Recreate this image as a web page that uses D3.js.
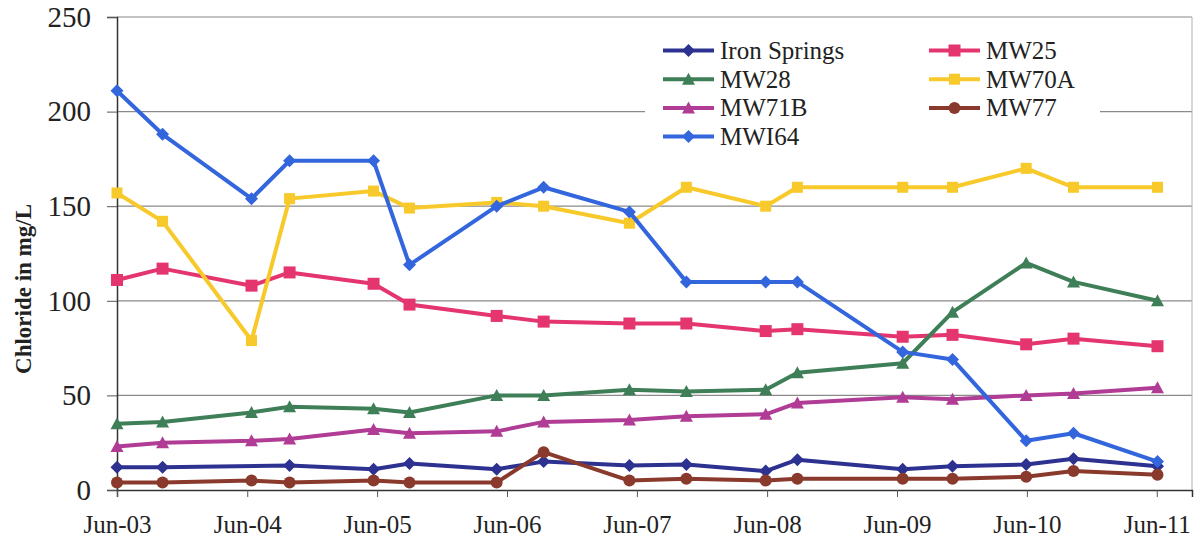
<!DOCTYPE html>
<html>
<head>
<meta charset="utf-8">
<script src="https://cdn.jsdelivr.net/npm/d3@7"></script>
<style>
  html, body { margin: 0; padding: 0; background: #fff; }
  svg { display: block; }
  text { font-family: "Liberation Serif", "Times New Roman", serif; fill: #222; }
</style>
</head>
<body>
<svg id="chart" width="1197" height="544"></svg>
<script>
// ---- data ----
const sampleDates = ["2003-06-01","2003-10-07","2004-06-13","2004-09-28","2005-05-22","2005-08-31",
  "2006-05-03","2006-09-12","2007-05-11","2007-10-18","2008-05-28","2008-08-25",
  "2009-06-17","2009-11-04","2010-05-30","2010-10-10","2011-06-03"];
const seriesNames = ["Iron Springs","MW25","MW28","MW70A","MW71B","MW77","MWI64"];
const ironSprings = [12,12,null,13,11,14,11,15,13,13.5,10,16,11,12.5,13.5,16.5,12.5];
const mw25  = [111,117,108,115,109,98,92,89,88,88,84,85,81,82,77,80,76];
const mw28  = [35,36,41,44,43,41,50,50,53,52,53,62,67,94,120,110,100];
const mw70a = [157,142,79,154,158,149,152,150,141,160,150,160,160,160,170,160,160];
const mw71b = [23,25,26,27,32,30,31,36,37,39,40,46,49,48,50,51,54];
const mw77  = [4,4,5,4,5,4,4,20,5,6,5,6,6,6,7,10,8];
const mwi64 = [211,188,154,174,174,119,150,160,147,110,110,110,73,69,26,30,15];
const yTicks = [0,50,100,150,200,250];
const xTickYears = [2003,2004,2005,2006,2007,2008,2009,2010,2011];
const yTitle = "Chloride in mg/L";

// ---- styles ----
const styles = {
  "Iron Springs": {color:"#2d3190", marker:"diamond", size:11},
  "MW25":  {color:"#e4356f", marker:"square", size:12},
  "MW28":  {color:"#3f7f58", marker:"triangle", size:11},
  "MW70A": {color:"#f7c92a", marker:"square", size:11},
  "MW71B": {color:"#b03c95", marker:"triangle", size:11},
  "MW77":  {color:"#8a3a2c", marker:"circle", size:12},
  "MWI64": {color:"#3366dd", marker:"diamond", size:11}
};
const valuesByName = {"Iron Springs":ironSprings,"MW25":mw25,"MW28":mw28,"MW70A":mw70a,"MW71B":mw71b,"MW77":mw77,"MWI64":mwi64};

const parse = d3.timeParse("%Y-%m-%d");
const dates = sampleDates.map(parse);

const svg = d3.select("#chart");
const pLeft = 117, pRight = 1192, pTop = 17, pBottom = 490;
const serif = '"Liberation Serif", "Times New Roman", serif';

const x = d3.scaleTime()
  .domain([new Date(2003,5,1), new Date(2011,8,8)])
  .range([pLeft, pRight]);
const y = d3.scaleLinear().domain([0,250]).range([pBottom, pTop]);

// gridlines
svg.append("g").selectAll("line").data(yTicks.filter(d => d > 0)).join("line")
  .attr("x1", pLeft).attr("x2", pRight)
  .attr("y1", d => y(d)).attr("y2", d => y(d))
  .attr("stroke", "#8a8a8a").attr("stroke-width", 1.2);

// right border
svg.append("line").attr("x1", pRight).attr("x2", pRight).attr("y1", pTop).attr("y2", pBottom)
  .attr("stroke", "#b0b0b0").attr("stroke-width", 1);

// y axis
const yAxis = svg.append("g").attr("transform", `translate(${pLeft},0)`)
  .call(d3.axisLeft(y).tickValues(yTicks).tickSize(10).tickPadding(16));
yAxis.attr("font-family", serif);
yAxis.select(".domain").attr("stroke", "#333").attr("stroke-width", 1.5);
yAxis.selectAll(".tick line").attr("stroke", "#555");
yAxis.selectAll("text").style("font-size", "29px").attr("fill", "#222").style("font-family", serif);

// x axis
const xAxis = svg.append("g").attr("transform", `translate(0,${pBottom})`)
  .call(d3.axisBottom(x).tickValues(xTickYears.map(yr => new Date(yr,5,1)))
    .tickFormat(d3.timeFormat("%b-%y")).tickSize(7).tickPadding(18));
xAxis.attr("font-family", serif);
xAxis.select(".domain").attr("stroke", "#333").attr("stroke-width", 1.5);
xAxis.selectAll(".tick line").attr("stroke", "#555");
xAxis.selectAll("text").style("font-size", "25px").attr("fill", "#222").style("font-family", serif);

// y title
svg.append("text")
  .attr("transform", `translate(31,289) rotate(-90)`)
  .attr("text-anchor", "middle")
  .style("font-size", "23px").style("font-weight", "bold")
  .text(yTitle);

// markers
function markerPath(type, s) {
  const h = s / 2;
  if (type === "diamond") return `M0,${-h-1}L${h+1},0L0,${h+1}L${-h-1},0Z`;
  if (type === "square") return `M${-h},${-h}H${h}V${h}H${-h}Z`;
  if (type === "triangle") return `M0,${-h-1}L${h+1},${h}L${-h-1},${h}Z`;
  if (type === "circle") return `M${h},0A${h},${h} 0 1,1 ${-h},0A${h},${h} 0 1,1 ${h},0Z`;
}

const line = d3.line().defined(d => d.v != null).x(d => x(d.date)).y(d => y(d.v));

seriesNames.forEach(name => {
  const st = styles[name];
  const pts = valuesByName[name].map((v, i) => ({date: dates[i], v}));
  const valid = pts.filter(d => d.v != null);
  const g = svg.append("g");
  g.append("path").datum(valid).attr("d", line)
    .attr("fill", "none").attr("stroke", st.color)
    .attr("stroke-width", 4).attr("stroke-linejoin", "round");
  g.selectAll("path.m").data(valid).join("path").attr("class", "m")
    .attr("transform", d => `translate(${x(d.date)},${y(d.v)})`)
    .attr("d", markerPath(st.marker, st.size))
    .attr("fill", st.color);
});

// legend
const legend = svg.append("g");
legend.append("rect").attr("x", 645).attr("y", 30).attr("width", 455).attr("height", 122).attr("fill", "#fff");
const legendLayout = [
  {name:"Iron Springs", col:0, row:0}, {name:"MW25", col:1, row:0},
  {name:"MW28", col:0, row:1}, {name:"MW70A", col:1, row:1},
  {name:"MW71B", col:0, row:2}, {name:"MW77", col:1, row:2},
  {name:"MWI64", col:0, row:3}
];
const colX = [663, 929], rowY0 = 50.5, rowStep = 28.7;
legendLayout.forEach(it => {
  const st = styles[it.name];
  const lx = colX[it.col], ly = rowY0 + it.row * rowStep;
  legend.append("line").attr("x1", lx).attr("x2", lx + 51).attr("y1", ly).attr("y2", ly)
    .attr("stroke", st.color).attr("stroke-width", 4);
  legend.append("path").attr("transform", `translate(${lx + 25.5},${ly})`)
    .attr("d", markerPath(st.marker, st.size)).attr("fill", st.color);
  legend.append("text").attr("x", lx + 57).attr("y", ly + 8.5)
    .style("font-size", "25px").style("font-family", serif).text(it.name);
});
</script>
</body>
</html>
